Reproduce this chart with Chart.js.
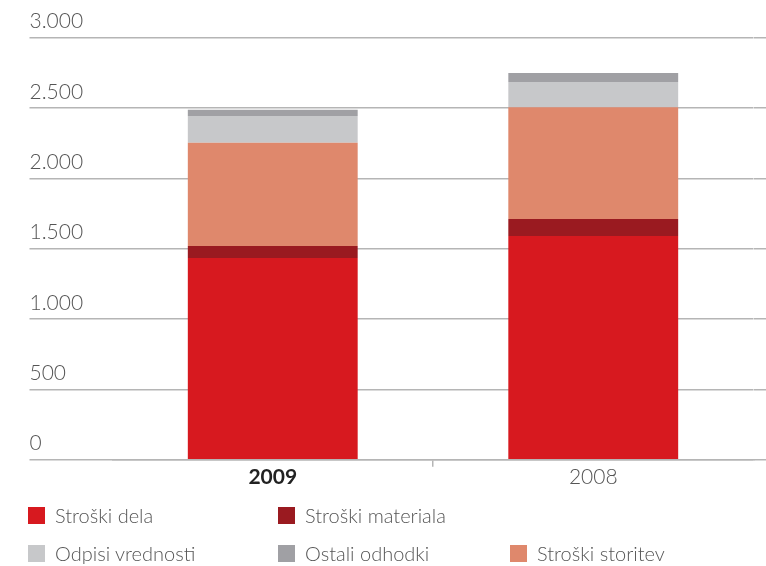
<!DOCTYPE html>
<html>
<head>
<meta charset="utf-8">
<script src="https://cdn.jsdelivr.net/npm/chart.js@4.4.0/dist/chart.umd.min.js"></script>
<style>
  html, body { margin: 0; padding: 0; background: #ffffff; }
  #wrap { position: relative; width: 766px; height: 566px; }
  #legend { position: absolute; left: 0; top: 0; width: 766px; height: 566px; pointer-events: none;
            font-family: Lato, 'Liberation Sans', sans-serif; font-weight: 300; font-size: 20px; color: #555; }
  .li { position: absolute; height: 18px; display: flex; align-items: center; white-space: nowrap; }
  .li .box { width: 17px; height: 17px; margin-right: 10px; flex: none; }
</style>
</head>
<body>
<div id="wrap">
  <canvas id="c" width="766" height="566"></canvas>
  <div id="legend"></div>
</div>
<script>
// ---- data ----
const years = ['2009', '2008'];
const strosekDela = [1434, 1590];
const strosekMateriala = [85, 121];
const strosekStoritev = [734, 794];
const odpisiVrednosti = [190, 180];
const ostaliOdhodki = [45, 64];
const yTickLabels = ['0', '500', '1.000', '1.500', '2.000', '2.500', '3.000'];
const seriesNames = ['Stroški dela', 'Stroški materiala', 'Stroški storitev', 'Odpisi vrednosti', 'Ostali odhodki'];
const legendLayout = [
  ['Stroški dela', 'Stroški materiala', null],
  ['Odpisi vrednosti', 'Ostali odhodki', 'Stroški storitev']
];

const colors = ['#d7191f', '#9a1a20', '#df886c', '#c7c8ca', '#a0a0a4'];
const seriesData = [strosekDela, strosekMateriala, strosekStoritev, odpisiVrednosti, ostaliOdhodki];
const FONT = "Lato, 'Liberation Sans', sans-serif";
const gridColor = '#b5b5b5';

const chart = new Chart(document.getElementById('c'), {
  type: 'bar',
  data: {
    labels: years,
    datasets: seriesNames.map((name, i) => ({
      label: name,
      data: seriesData[i],
      backgroundColor: colors[i],
      borderWidth: 0,
      barPercentage: 1,
      categoryPercentage: 0.53,
      stack: 's'
    }))
  },
  options: {
    responsive: false,
    animation: false,
    layout: { padding: { left: 29.5, top: 37.7, right: 0, bottom: 0 } },
    plugins: { legend: { display: false }, tooltip: { enabled: false } },
    scales: {
      x: {
        stacked: true,
        afterFit: s => { s.height = 106.3; },
        grid: {
          drawOnChartArea: false,
          drawTicks: true,
          tickLength: 7,
          color: ctx => ctx.index === 1 ? gridColor : 'rgba(0,0,0,0)',
          lineWidth: 1.5
        },
        border: { display: true, color: gridColor, width: 1.5 },
        ticks: {
          padding: 0,
          color: ctx => ctx.index === 0 ? '#222' : '#555',
          font: ctx => ctx.index === 0
            ? { family: FONT, size: 21, weight: 'bold', lineHeight: 1 }
            : { family: FONT, size: 21, weight: 300, lineHeight: 1 }
        }
      },
      y: {
        stacked: true,
        min: 0, max: 3000,
        afterFit: s => { s.width = 83; },
        grid: { color: gridColor, lineWidth: 1.5, tickLength: 83, drawTicks: true },
        border: { display: false },
        ticks: {
          stepSize: 500,
          crossAlign: 'far',
          labelOffset: -16,
          padding: 0,
          color: '#555',
          font: { family: FONT, size: 21, weight: 300 },
          callback: (v, i) => yTickLabels[i]
        }
      },
      y2: {
        position: 'right',
        min: 0, max: 3000,
        afterFit: s => { s.width = 12.5; },
        grid: { color: gridColor, lineWidth: 1.5, tickLength: 12.5, drawTicks: true, drawOnChartArea: false },
        border: { display: false },
        ticks: { stepSize: 500, display: false }
      }
    }
  }
});

// ---- legend built from chart datasets ----
const legendEl = document.getElementById('legend');
const colX = [28, 278, 510];
const rowY = [515, 553];
legendLayout.forEach((row, r) => {
  row.forEach((name, c) => {
    if (!name) return;
    const ds = chart.data.datasets.find(d => d.label === name);
    const item = document.createElement('div');
    item.className = 'li';
    item.style.left = colX[c] + 'px';
    item.style.top = (rowY[r] - 9) + 'px';
    const box = document.createElement('span');
    box.className = 'box';
    box.style.background = ds.backgroundColor;
    const txt = document.createElement('span');
    txt.textContent = ds.label;
    item.appendChild(box);
    item.appendChild(txt);
    legendEl.appendChild(item);
  });
});
</script>
</body>
</html>
